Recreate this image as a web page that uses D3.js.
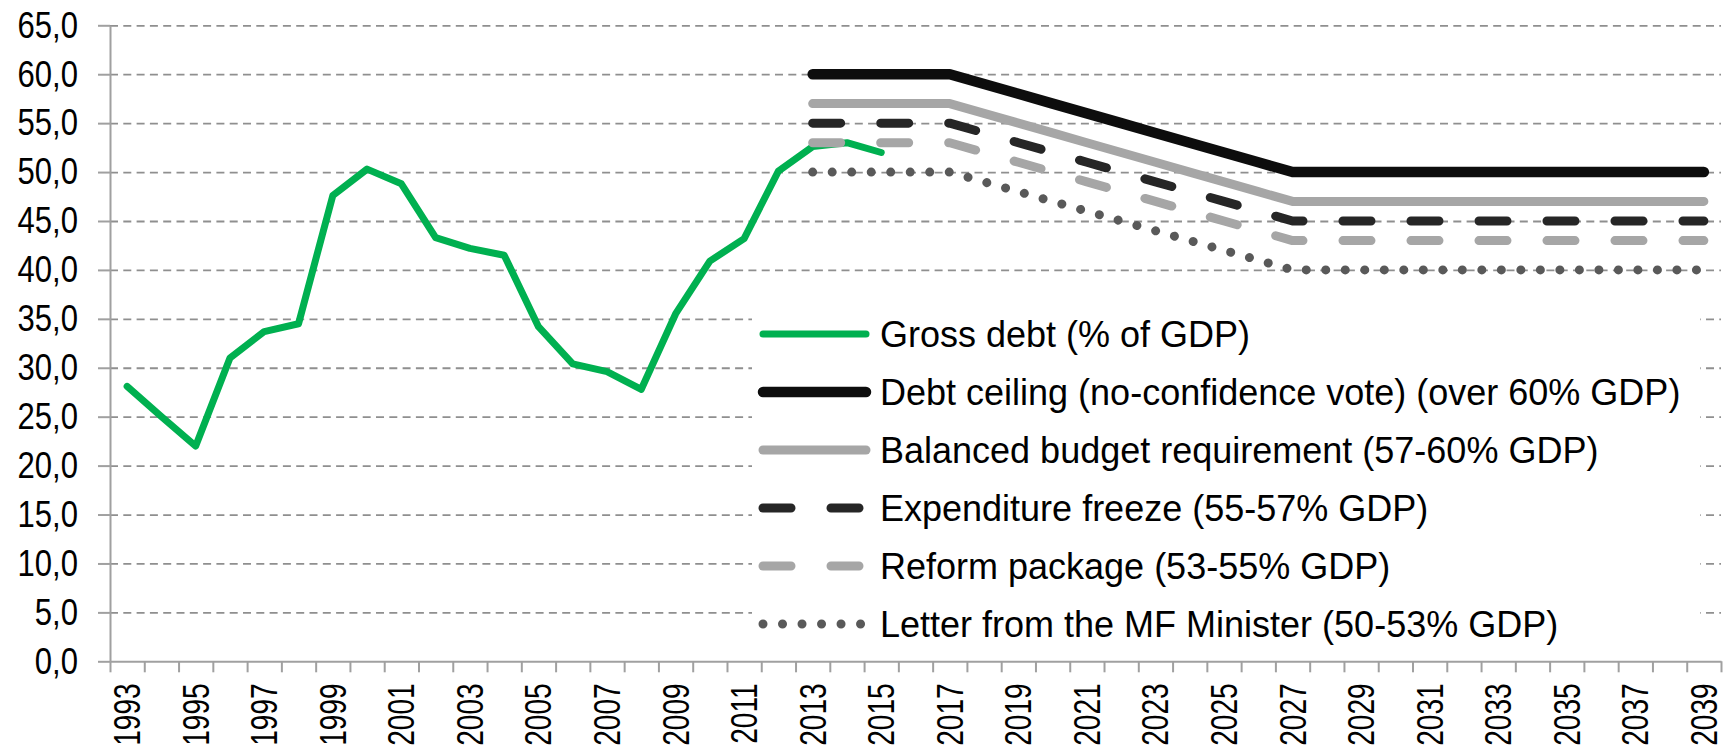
<!DOCTYPE html>
<html>
<head>
<meta charset="utf-8">
<script src="https://cdn.jsdelivr.net/npm/d3@7/dist/d3.min.js"></script>
<style>
    html, body { margin: 0; padding: 0; background: #fff; }
    svg { display: block; font-family: 'Liberation Sans', Arial, sans-serif; }
</style>
</head>
<body>
<div id="chart"></div>
<script>
// Categories (x axis)
const years = [
    1993, 1994, 1995, 1996, 1997, 1998, 1999, 2000, 2001, 2002, 2003, 2004,
    2005, 2006, 2007, 2008, 2009, 2010, 2011, 2012, 2013, 2014, 2015, 2016,
    2017, 2018, 2019, 2020, 2021, 2022, 2023, 2024, 2025, 2026, 2027, 2028,
    2029, 2030, 2031, 2032, 2033, 2034, 2035, 2036, 2037, 2038, 2039
];
const yTicks = [0, 5, 10, 15, 20, 25, 30, 35, 40, 45, 50, 55, 60, 65];

// Gross debt, 1993-2015
const grossDebt = [
    28.1, 25.0, 22.0, 31.0, 33.7, 34.5, 47.6, 50.3, 48.8, 43.3, 42.2, 41.5,
    34.2, 30.4, 29.6, 27.8, 35.5, 40.9, 43.2, 50.1, 52.6, 53.0, 52.0
];

// Thresholds, 2013-2039
const debtCeiling = [
    60, 60, 60, 60, 60, 59, 58, 57, 56, 55, 54, 53, 52, 51, 50,
    50, 50, 50, 50, 50, 50, 50, 50, 50, 50, 50, 50
];
const balancedBudget = [
    57, 57, 57, 57, 57, 56, 55, 54, 53, 52, 51, 50, 49, 48, 47,
    47, 47, 47, 47, 47, 47, 47, 47, 47, 47, 47, 47
];
const expenditureFreeze = [
    55, 55, 55, 55, 55, 54, 53, 52, 51, 50, 49, 48, 47, 46, 45,
    45, 45, 45, 45, 45, 45, 45, 45, 45, 45, 45, 45
];
const reformPackage = [
    53, 53, 53, 53, 53, 52, 51, 50, 49, 48, 47, 46, 45, 44, 43,
    43, 43, 43, 43, 43, 43, 43, 43, 43, 43, 43, 43
];
const ministerLetter = [
    50, 50, 50, 50, 50, 49, 48, 47, 46, 45, 44, 43, 42, 41, 40,
    40, 40, 40, 40, 40, 40, 40, 40, 40, 40, 40, 40
];

const legendLabels = [
    'Gross debt (% of GDP)',
    'Debt ceiling (no-confidence vote) (over 60% GDP)',
    'Balanced budget requirement (57-60% GDP)',
    'Expenditure freeze (55-57% GDP)',
    'Reform package (53-55% GDP)',
    'Letter from the MF Minister (50-53% GDP)'
];

const width = 1723,
    height = 748,
    plot = { left: 110, right: 1721, top: 25.3, bottom: 661.3 };

// Series styles (same order as legend)
const series = [
    { values: grossDebt, start: 1993, color: '#00b050', width: 7, dash: null },
    { values: debtCeiling, start: 2013, color: '#0d0d0d', width: 10.5, dash: null },
    { values: balancedBudget, start: 2013, color: '#a6a6a6', width: 9, dash: null },
    { values: expenditureFreeze, start: 2013, color: '#262626', width: 9, dash: '28 40' },
    { values: reformPackage, start: 2013, color: '#a6a6a6', width: 9, dash: '28 40' },
    { values: ministerLetter, start: 2013, color: '#595959', width: 9, dash: '0.01 19.5' }
];

const svg = d3.select('#chart')
    .append('svg')
    .attr('width', width)
    .attr('height', height);

svg.append('rect')
    .attr('width', width)
    .attr('height', height)
    .attr('fill', '#fff');

const x = d3.scaleBand()
        .domain(years)
        .range([plot.left, plot.right]),
    y = d3.scaleLinear()
        .domain([0, 65])
        .range([plot.bottom, plot.top]),
    xEdges = d3.scaleLinear()
        .domain([0, years.length])
        .range([plot.left, plot.right]);

// Gridlines
const grid = svg.append('g')
    .attr('transform', `translate(${plot.left},0)`)
    .call(d3.axisLeft(y)
        .tickValues(yTicks.filter(d => d > 0))
        .tickSize(-(plot.right - plot.left))
        .tickFormat(''));
grid.select('.domain').remove();
grid.selectAll('line')
    .attr('stroke', '#8f8f8f')
    .attr('stroke-width', 1.8)
    .attr('stroke-dasharray', '8 5.3');

// Y axis
const yScaleX = 0.84;
const yAxis = svg.append('g')
    .attr('transform', `translate(${plot.left},0)`)
    .call(d3.axisLeft(y)
        .tickValues(yTicks)
        .tickSize(12)
        .tickSizeOuter(0)
        .tickFormat(d => d3.format('.1f')(d).replace('.', ',')));
yAxis.selectAll('.domain, line')
    .attr('stroke', '#a0a0a0')
    .attr('stroke-width', 2);
yAxis.selectAll('text')
    .attr('x', -32 / yScaleX)
    .attr('transform', `scale(${yScaleX},1)`)
    .attr('fill', '#000')
    .style('font-size', '37px');

// X axis: tick marks between categories
const xTickAxis = svg.append('g')
    .attr('transform', `translate(0,${plot.bottom})`)
    .call(d3.axisBottom(xEdges)
        .tickValues(d3.range(years.length + 1))
        .tickSize(11)
        .tickSizeOuter(0)
        .tickFormat(''));
xTickAxis.selectAll('.domain, line')
    .attr('stroke', '#a0a0a0')
    .attr('stroke-width', 2);

// X axis: labels on every other year
const xScaleX = 0.76;
const xLabelAxis = svg.append('g')
    .attr('transform', `translate(0,${plot.bottom})`)
    .call(d3.axisBottom(x)
        .tickValues(years.filter(d => d % 2 === 1))
        .tickSize(0));
xLabelAxis.select('.domain').remove();
xLabelAxis.selectAll('text')
    .attr('transform', `rotate(-90) scale(${xScaleX},1)`)
    .attr('x', -22 / xScaleX)
    .attr('y', 0)
    .attr('dy', '0.35em')
    .attr('fill', '#000')
    .style('text-anchor', 'end')
    .style('font-size', '37px');

// Lines
const line = d3.line()
    .x(d => x(d.year) + x.bandwidth() / 2)
    .y(d => y(d.value));

series.forEach(s => {
    const startIdx = years.indexOf(s.start);
    const pts = s.values.map((v, i) => ({ year: years[startIdx + i], value: v }));
    svg.append('path')
        .datum(pts)
        .attr('d', line)
        .attr('fill', 'none')
        .attr('stroke', s.color)
        .attr('stroke-width', s.width)
        .attr('stroke-linecap', 'round')
        .attr('stroke-linejoin', 'round')
        .attr('stroke-dasharray', s.dash);
});

// Legend
const legend = svg.append('g');
legend.append('rect')
    .attr('x', 752)
    .attr('y', 298)
    .attr('width', 948)
    .attr('height', 356)
    .attr('fill', '#fff');

const rows = legend.selectAll('g.row')
    .data(series)
    .enter()
    .append('g')
    .attr('class', 'row')
    .attr('transform', (d, i) => `translate(0,${334 + i * 58})`);

rows.append('line')
    .attr('x1', 763)
    .attr('x2', 866)
    .attr('stroke', d => d.color)
    .attr('stroke-width', d => d.width)
    .attr('stroke-linecap', 'round')
    .attr('stroke-dasharray', d => d.dash);

rows.append('text')
    .attr('x', 880)
    .attr('dy', '0.35em')
    .style('font-size', '36px')
    .attr('fill', '#000')
    .text((d, i) => legendLabels[i]);
</script>
</body>
</html>
